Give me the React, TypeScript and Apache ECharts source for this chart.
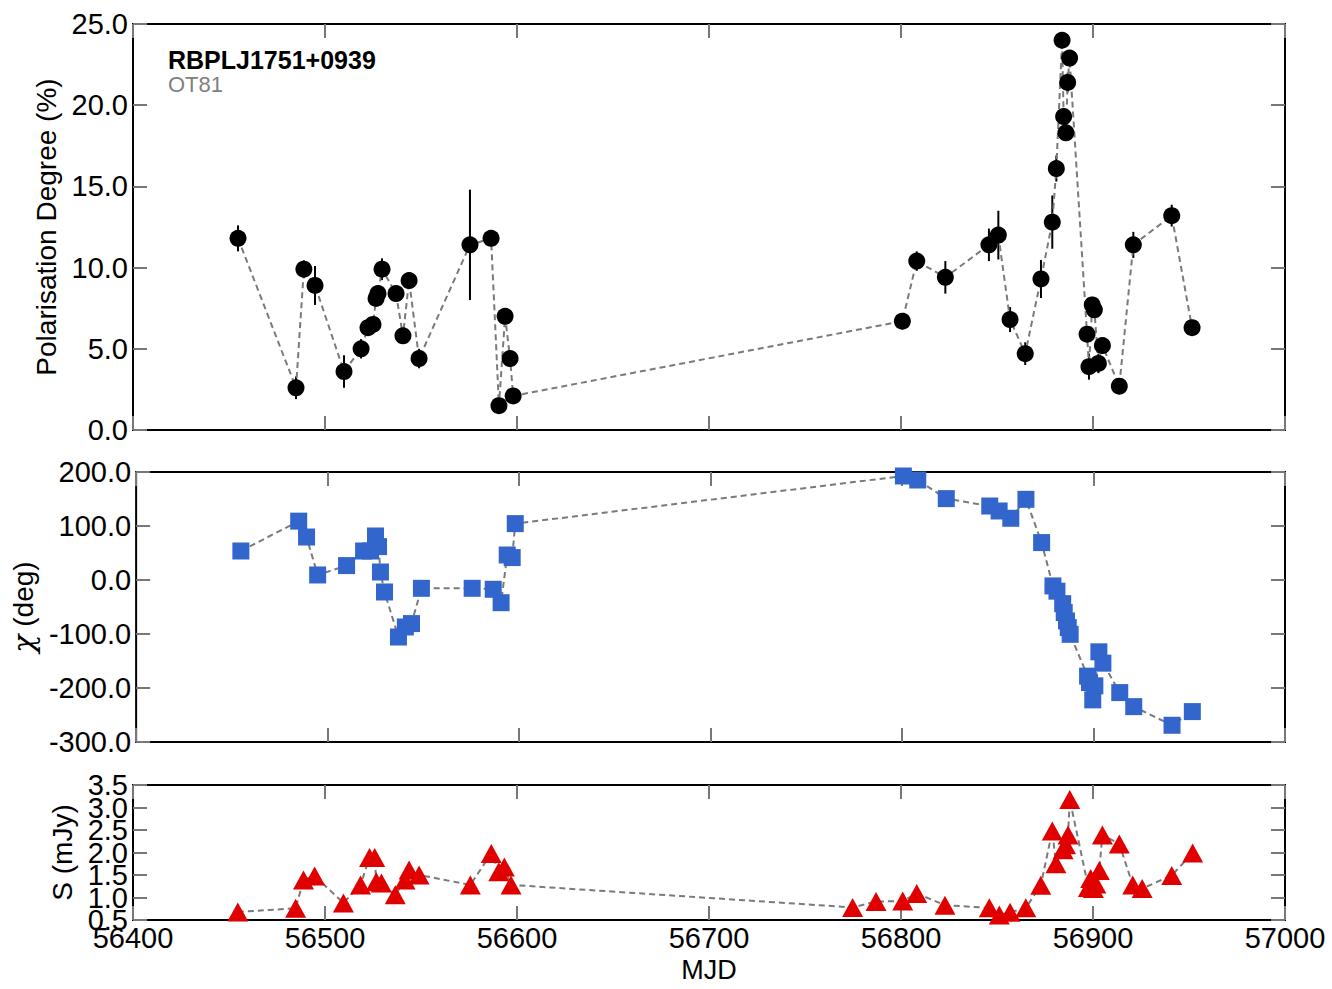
import { useEffect, useRef } from 'react'
import * as echarts from 'echarts'

// MJD of the optical polarimetry epochs (shared by polarisation degree and angle)
const polMjd = [
  56454.7, 56484.9, 56489.0, 56494.8, 56509.9, 56518.8, 56522.4, 56525.0, 56526.6, 56527.6,
  56529.7, 56537.0, 56540.6, 56543.8, 56549.0, 56575.5, 56586.5, 56590.6, 56593.8, 56596.4,
  56598.0, 56800.7, 56808.2, 56823.1, 56845.8, 56850.7, 56856.8, 56864.7, 56872.9, 56878.8,
  56880.9, 56883.9, 56884.7, 56885.9, 56886.8, 56887.8, 56896.9, 56897.9, 56899.6, 56900.7,
  56902.8, 56904.9, 56913.7, 56921.0, 56941.0, 56951.6,
]
const polDeg = [
  11.8, 2.6, 9.9, 8.9, 3.6, 5.0, 6.3, 6.5, 8.1, 8.4,
  9.9, 8.4, 5.8, 9.2, 4.4, 11.4, 11.8, 1.5, 7.0, 4.4,
  2.1, 6.7, 10.4, 9.4, 11.4, 12.0, 6.8, 4.7, 9.3, 12.8,
  16.1, 24.0, 19.3, 18.3, 21.4, 22.9, 5.9, 3.9, 7.7, 7.4,
  4.1, 5.2, 2.7, 11.4, 13.2, 6.3,
]
const polErr = [
  0.8, 0.7, 0.55, 1.2, 1.0, 0.6, 0.4, 0.4, 0.4, 0.4,
  0.67, 0.4, 0.5, 0.5, 0.6, 3.4, 0.4, 0.4, 0.5, 0.5,
  0.4, 0.5, 0.6, 1.0, 1.0, 1.5, 0.77, 0.7, 1.17, 1.64,
  0.8, 0.5, 0.5, 0.5, 0.6, 0.5, 0.5, 0.8, 0.5, 0.5,
  0.6, 0.5, 0.5, 0.8, 0.67, 0.4,
]
const chiDeg = [
  53.7, 109, 79.6, 9.3, 26.7, 53.7, 53.7, 81.5, 61.8, 14.8,
  -22.2, -105.6, -87, -80.7, -15.4, -15.4, -17.2, -42, 46.3, 41.5,
  104.4, 192.6, 185.2, 150.7, 137, 127.8, 114.3, 149.4, 69.3, -11,
  -20.7, -43.8, -60.4, -75.9, -88.2, -100.6, -178, -190, -222, -196,
  -133, -154, -208.5, -234.5, -269, -243.7,
]

// radio flux density epochs
const fluxMjd = [
  56454.6, 56484.7, 56488.8, 56494.6, 56509.6, 56518.5, 56523.2, 56525.9, 56526.7, 56529.4,
  56536.6, 56541.7, 56543.8, 56549.0, 56575.7, 56586.6, 56590.5, 56593.4, 56596.9,
  56774.8, 56787.0, 56800.9, 56808.2, 56822.9, 56846.0, 56851.2, 56856.8, 56865.0, 56872.8,
  56878.8, 56880.7, 56884.4, 56885.7, 56887.0, 56887.9, 56897.6, 56898.8, 56900.2, 56901.5,
  56903.3, 56904.9, 56913.7, 56920.7, 56925.6, 56941.0, 56951.9,
]
const fluxVal = [
  0.68, 0.76, 1.39, 1.48, 0.88, 1.28, 1.89, 1.89, 1.35, 1.32,
  1.06, 1.39, 1.61, 1.5, 1.28, 1.98, 1.57, 1.68, 1.28,
  0.78, 0.91, 0.92, 1.09, 0.83, 0.77, 0.61, 0.67, 0.77, 1.27,
  2.48, 1.75, 2.06, 2.17, 2.39, 3.18, 1.22, 1.42, 1.2, 1.3,
  1.6, 2.39, 2.19, 1.28, 1.2, 1.49, 1.99,
]

const FONT = 'Liberation Sans, Arial, Helvetica, sans-serif'

const panels = [
  { top: 24, height: 406, min: 0, max: 25, interval: 5, name: 'Polarisation Degree (%)', gap: 66 },
  { top: 472, height: 270, min: -300, max: 200, interval: 100, name: '{c|χ} (deg)', gap: 97 },
  { top: 785, height: 135, min: 0.5, max: 3.5, interval: 0.5, name: 'S (mJy)', gap: 51 },
]

const tick = {
  show: true,
  inside: true,
  length: 14,
  lineStyle: { color: '#777', width: 2 },
}

const labelBase = {
  show: true,
  fontSize: 29,
  color: '#000',
  fontFamily: FONT,
  margin: 5,
  showMinLabel: true,
  showMaxLabel: true,
  hideOverlap: false,
}

export default function App() {
  const chartRef = useRef<HTMLDivElement>(null)

  useEffect(() => {
    if (!chartRef.current) return
    const chart = echarts.init(chartRef.current, null, { renderer: 'svg' })

    const grid: any[] = panels.map((p) => ({
      left: 133,
      width: 1152,
      top: p.top,
      height: p.height,
      show: true,
      borderColor: '#000',
      borderWidth: 2,
      backgroundColor: 'transparent',
    }))
    // overlay grid on the flux panel that carries its whole-number tick labels,
    // so the tightly packed labels are all drawn (they overlap in the original too)
    grid.push({ ...grid[2], show: false })

    const xAxis: any[] = []
    const yAxis: any[] = []
    panels.forEach((p, i) => {
      const last = i === panels.length - 1
      for (const pos of ['bottom', 'top']) {
        const labelled = last && pos === 'bottom'
        xAxis.push({
          type: 'value',
          gridIndex: i,
          position: pos,
          min: 56400,
          max: 57000,
          interval: 100,
          axisLine: { show: false, onZero: false },
          axisTick: tick,
          splitLine: { show: false },
          axisLabel: labelled
            ? { ...labelBase, margin: 3, formatter: (v: number) => String(v) }
            : { show: false },
          name: labelled ? 'MJD' : '',
          nameLocation: 'middle',
          nameGap: 36,
          nameTextStyle: { fontSize: 27, color: '#000', fontFamily: FONT },
        })
      }
      for (const pos of ['left', 'right']) {
        const labelled = pos === 'left'
        yAxis.push({
          type: 'value',
          gridIndex: i,
          position: pos,
          min: p.min,
          max: p.max,
          interval: p.interval,
          axisLine: { show: false, onZero: false },
          axisTick: tick,
          splitLine: { show: false },
          axisLabel: labelled
            ? {
                ...labelBase,
                formatter: (v: number) =>
                  last && Math.abs(v - Math.round(v)) < 1e-6 ? '' : v.toFixed(1),
              }
            : { show: false },
          name: labelled ? p.name : '',
          nameLocation: 'middle',
          nameGap: p.gap,
          nameTextStyle: {
            fontSize: 28,
            color: '#000',
            fontFamily: FONT,
            rich: {
              c: { fontSize: 30, fontFamily: 'DejaVu Serif', fontStyle: 'italic', color: '#000' },
            },
          },
        })
      }
    })

    const flux = panels[2]
    xAxis.push({
      type: 'value',
      gridIndex: 3,
      min: 56400,
      max: 57000,
      interval: 100,
      show: false,
    })
    yAxis.push({
      type: 'value',
      gridIndex: 3,
      position: 'left',
      min: flux.min,
      max: flux.max,
      interval: flux.interval,
      axisLine: { show: false, onZero: false },
      axisTick: { show: false },
      splitLine: { show: false },
      axisLabel: {
        ...labelBase,
        formatter: (v: number) =>
          Math.abs(v - Math.round(v)) < 1e-6 && v > flux.min && v < flux.max ? v.toFixed(1) : '',
      },
    })

    const dashed = { color: '#7a7a7a', width: 2, type: [6, 4] }

    chart.setOption({
      animation: false,
      grid,
      xAxis,
      yAxis,
      graphic: [
        {
          type: 'text',
          x: 168,
          y: 47,
          style: {
            text: 'RBPLJ1751+0939',
            fontSize: 25,
            fontWeight: 'bold',
            fontFamily: FONT,
            fill: '#000',
          },
        },
        {
          type: 'text',
          x: 168,
          y: 73,
          style: { text: 'OT81', fontSize: 22, fontFamily: FONT, fill: '#808080' },
        },
      ],
      series: [
        {
          type: 'custom',
          xAxisIndex: 0,
          yAxisIndex: 0,
          z: 1,
          data: polMjd.map((m, i) => [m, polDeg[i] - polErr[i], polDeg[i] + polErr[i]]),
          encode: { x: 0, y: [1, 2] },
          renderItem: (_params: any, api: any) => {
            const lo = api.coord([api.value(0), api.value(1)])
            const hi = api.coord([api.value(0), api.value(2)])
            return {
              type: 'line',
              shape: { x1: lo[0], y1: lo[1], x2: hi[0], y2: hi[1] },
              style: { stroke: '#000', lineWidth: 2 },
            }
          },
        },
        {
          type: 'line',
          xAxisIndex: 0,
          yAxisIndex: 0,
          z: 2,
          data: polMjd.map((m, i) => [m, polDeg[i]]),
          symbol: 'circle',
          symbolSize: 17,
          itemStyle: { color: '#000' },
          lineStyle: dashed,
        },
        {
          type: 'line',
          xAxisIndex: 2,
          yAxisIndex: 2,
          z: 2,
          data: polMjd.map((m, i) => [m, chiDeg[i]]),
          symbol: 'rect',
          symbolSize: 17,
          itemStyle: { color: '#3366cc' },
          lineStyle: dashed,
        },
        {
          type: 'line',
          xAxisIndex: 4,
          yAxisIndex: 4,
          z: 2,
          data: fluxMjd.map((m, i) => [m, fluxVal[i]]),
          symbol: 'triangle',
          symbolSize: [21, 19],
          itemStyle: { color: '#e00000' },
          lineStyle: dashed,
        },
      ],
    })

    return () => {
      chart.dispose()
    }
  }, [])

  return (
    <div
      ref={chartRef}
      style={{ position: 'fixed', left: 0, top: 0, width: '1332px', height: '989px', background: '#fff' }}
    />
  )
}
